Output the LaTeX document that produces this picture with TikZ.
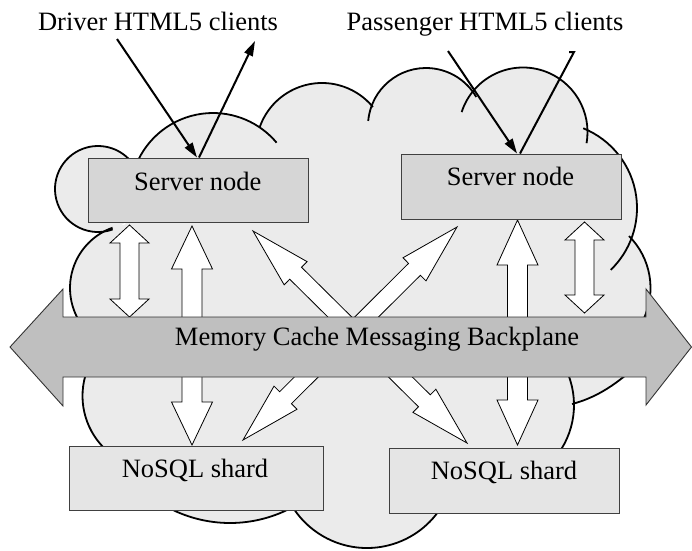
\documentclass[tikz,border=0pt]{standalone}
\usepackage{fontspec}
\setmainfont{Liberation Serif}
\newfontfamily\tnr{Liberation Serif}
\usetikzlibrary{calc,arrows.meta}
\definecolor{cloudgray}{gray}{0.92}
\definecolor{srvgray}{gray}{0.84}
\definecolor{nosqlgray}{gray}{0.90}
\definecolor{bpgray}{gray}{0.75}
% double block arrow between two named coordinates:
% #1 from, #2 to, #3 shaft half width, #4 head half width, #5 head length
\newcommand{\dblarrow}[5]{%
\path[hollow] let \p1=(#1), \p2=(#2), \n1={atan2((\y2)-(\y1),(\x2)-(\x1))} in
 (\p1) -- ($(\p1)+(\n1:#5)+({\n1+90}:#4)$) -- ($(\p1)+(\n1:#5)+({\n1+90}:#3)$)
 -- ($(\p2)+({\n1+180}:#5)+({\n1+90}:#3)$) -- ($(\p2)+({\n1+180}:#5)+({\n1+90}:#4)$)
 -- (\p2) -- ($(\p2)+({\n1+180}:#5)+({\n1-90}:#4)$) -- ($(\p2)+({\n1+180}:#5)+({\n1-90}:#3)$)
 -- ($(\p1)+(\n1:#5)+({\n1-90}:#3)$) -- ($(\p1)+(\n1:#5)+({\n1-90}:#4)$) -- cycle;}
\begin{document}
\begin{tikzpicture}[x=1pt,y=1pt,
  cloudfill/.style={fill=cloudgray},
  cloudline/.style={draw=black,line width=1.8pt},
  hollow/.style={draw=black,fill=white,line width=0.8pt,line join=miter},
  bp/.style={draw=black!80,fill=bpgray,line width=0.9pt},
  srv/.style={draw=black!75,fill=srvgray,line width=1pt,inner sep=0pt},
  nosql/.style={draw=black!75,fill=nosqlgray,line width=1pt,inner sep=0pt},
  lbl/.style={font=\tnr\fontsize{26.5}{30}\selectfont,inner sep=0pt,anchor=base},
  blk/.style={draw=black,line width=2pt},
  tipk/.style={-{Triangle[length=15pt,width=9pt]}}]
\useasboundingbox (0,0) rectangle (692,-550);

% ---------- cloud fill ----------
\fill[cloudfill] (98,-189) circle[radius=43];
\fill[cloudfill] (134,-288) circle[radius=64];
\fill[cloudfill] (156,-396) circle[radius=73.5];
\fill[cloudfill] (230,-391.5) circle[radius=131.5];
\fill[cloudfill] (367,-460) circle[radius=88];
\fill[cloudfill] (491,-405) circle[radius=83];
\fill[cloudfill] (577,-288) circle[radius=73.5];
\fill[cloudfill] (551,-208) circle[radius=86];
\fill[cloudfill] (523,-132) circle[radius=64.5];
\fill[cloudfill] (426,-126) circle[radius=58];
\fill[cloudfill] (322,-149) circle[radius=66];
\fill[cloudfill] (213,-196) circle[radius=83];
\fill[cloudfill] (140,-180) -- (300,-140) -- (420,-140) -- (560,-180) -- (600,-280)
  -- (640,-330) -- (634,-368) .. controls (614,-386) and (595,-398) .. (572,-404)
  -- (560,-440) -- (380,-446) -- (300,-440) -- (110,-440) -- (100,-330) -- (120,-240) -- cycle;

% ---------- cloud outline ----------
\draw[cloudline] ([shift={(-70:43)}]98,-189) arc[start angle=-70, end angle=-320, radius=43];
\draw[cloudline] ([shift={(154:83)}]213,-196) arc[start angle=154, end angle=40, radius=83];
\draw[cloudline] ([shift={(160.5:66)}]322,-149) arc[start angle=160.5, end angle=39.5, radius=66];
\draw[cloudline] ([shift={(175:58)}]426,-126) arc[start angle=175, end angle=30, radius=58];
\draw[cloudline] ([shift={(162:64.5)}]523,-132) arc[start angle=162, end angle=-10, radius=64.5];
\draw[cloudline] ([shift={(68:86)}]551,-208) arc[start angle=68, end angle=-46, radius=86];
\draw[cloudline] ([shift={(45:73.5)}]577,-288) arc[start angle=45, end angle=-25, radius=73.5];
\draw[cloudline] (634,-368) .. controls (614,-386) and (595,-398) .. (572,-404);
\draw[cloudline] ([shift={(25:83)}]491,-405) arc[start angle=25, end angle=-40, radius=83];
\draw[cloudline] ([shift={(-30:88)}]367,-460) arc[start angle=-30, end angle=-150, radius=88];
\draw[cloudline] ([shift={(-60:131.5)}]230,-391.5) arc[start angle=-60, end angle=-120, radius=131.5];
\draw[cloudline] ([shift={(225:73.5)}]156,-396) arc[start angle=225, end angle=160, radius=73.5];
\draw[cloudline] ([shift={(215:64)}]134,-288) arc[start angle=215, end angle=109.6, radius=64];

% ---------- hollow block arrows ----------
\coordinate (a1s) at (129.5,-225);  \coordinate (a1e) at (129.5,-317);
\coordinate (a2s) at (192,-226);    \coordinate (a2e) at (192,-445);
\coordinate (a3s) at (517.5,-220);  \coordinate (a3e) at (517.5,-445);
\coordinate (a4s) at (584.5,-222);  \coordinate (a4e) at (584.5,-313);
\coordinate (d1s) at (253,-231);    \coordinate (d1e) at (467,-443);
\coordinate (d2s) at (457,-227);    \coordinate (d2e) at (243,-440);
\dblarrow{a2s}{a2e}{10pt}{20.5pt}{43pt}
\dblarrow{a3s}{a3e}{10pt}{20.5pt}{45pt}
\dblarrow{d1s}{d1e}{8.4pt}{16.3pt}{60pt}
\dblarrow{d2s}{d2e}{8.4pt}{16.3pt}{60pt}
\dblarrow{a1s}{a1e}{9.5pt}{19.5pt}{18pt}
\dblarrow{a4s}{a4e}{9.5pt}{19.5pt}{18pt}

% ---------- backplane ----------
\draw[bp] (10,-347) -- (63,-289) -- (63,-317) -- (646,-317) -- (646,-289) -- (691.5,-347)
  -- (646,-405) -- (646,-377) -- (63,-377) -- (63,-406) -- cycle;
\node[lbl] (bpt) at (377,-345) {Memory Cache Messaging Backplane};

% ---------- boxes ----------
\node[srv, minimum width=220pt, minimum height=64pt] (s1) at (198,-190) {};
\node[srv, minimum width=220pt, minimum height=65pt] (s2) at (511,-186.5) {};
\node[nosql, minimum width=254pt, minimum height=64pt] (n1) at (196,-478) {};
\node[nosql, minimum width=230pt, minimum height=65pt] (n2) at (504,-480.5) {};
\node[lbl] (s1t) at (197.7,-190) {Server node};
\node[lbl] (s2t) at (510.5,-185) {Server node};
\node[lbl] (n1t) at (195,-477) {NoSQL shard};
\node[lbl] (n2t) at (504,-479) {NoSQL shard};

% ---------- clients ----------
\node[lbl] (dtx) at (158,-30) {Driver HTML5 clients};
\node[lbl] (ptx) at (485,-30) {Passenger HTML5 clients};
\coordinate (dIn) at (117,-39);
\coordinate (dOut) at (255,-41);
\coordinate (pIn) at (448,-51);
\coordinate (pOut) at (574,-52);
\draw[blk,tipk] (dIn) -- ([xshift=-1pt]s1.north);
\draw[blk,tipk] ([xshift=1pt]s1.north) -- (dOut);
\draw[blk,tipk] (pIn) -- ([xshift=6pt]s2.north);
\draw[blk] ([xshift=9pt]s2.north) -- (pOut) -- ++(-5,0);
\end{tikzpicture}
\end{document}
